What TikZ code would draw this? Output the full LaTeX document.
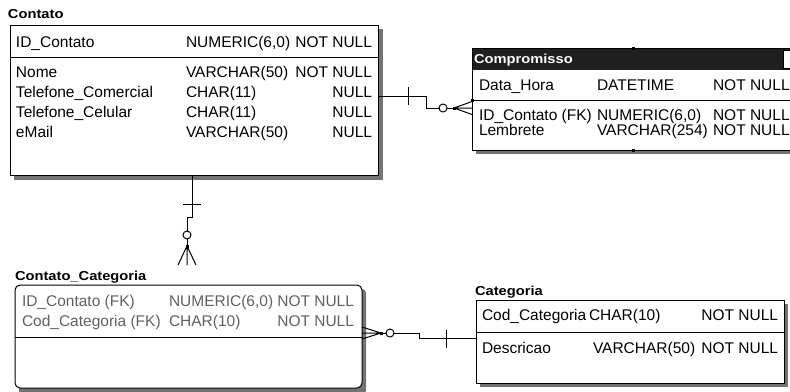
\documentclass[tikz,border=0pt]{standalone}
\usepackage{fontspec}
\setmainfont{Liberation Sans}
\newfontfamily\ttlfont[FakeStretch=1.13]{Liberation Sans Bold}
\begin{document}
\begin{tikzpicture}[x=1pt,y=-1pt,
  every node/.style={inner sep=0pt,outer sep=0pt},
  row/.style={anchor=base west,font=\fontsize{15.5}{18}\selectfont},
  rowr/.style={anchor=base east,font=\fontsize{15.5}{18}\selectfont},
  graytxt/.style={row,text=black!62},
  graytxtr/.style={rowr,text=black!62},
  ttl/.style={anchor=base west,font=\ttlfont\fontsize{13}{15}\selectfont},
  box/.style={draw=black,line width=1pt,fill=white},
  shadow/.style={fill=black!55,draw=none},
  conn/.style={line width=1pt,draw=black},
  circ/.style={circle,draw=black,fill=white,line width=1pt,minimum size=8pt},
  sq/.style={fill=black,minimum size=3pt}
]
\useasboundingbox (0,0) rectangle (790,391);
\clip (0,0) rectangle (790,391);
\fill[white] (0,0) rectangle (790,391);

% ---------------- Contato
\fill[shadow] (14,29) rectangle (383,180);
\draw[box] (10,25) rectangle (378,175);
\draw[line width=1pt] (10,57) -- (378,57);
\node[ttl] (tc) at (8,18.5) {Contato};
\node[row] (c1a) at (16,47.5) {ID\_Contato};
\node[row] (c1b) at (186,47.5) {NUMERIC(6,0)};
\node[rowr] (c1c) at (372,47.5) {NOT NULL};
\node[row] at (16,77.5) {Nome};
\node[row] at (186,77.5) {VARCHAR(50)};
\node[rowr] at (372,77.5) {NOT NULL};
\node[row] at (16,97.5) {Telefone\_Comercial};
\node[row] at (186,97.5) {CHAR(11)};
\node[rowr] at (372,97.5) {NULL};
\node[row] at (16,117.5) {Telefone\_Celular};
\node[row] at (186,117.5) {CHAR(11)};
\node[rowr] at (372,117.5) {NULL};
\node[row] at (16,137.5) {eMail};
\node[row] at (186,137.5) {VARCHAR(50)};
\node[rowr] at (372,137.5) {NULL};

% ---------------- Compromisso
\fill[shadow] (476,52) rectangle (800,154);
\draw[box] (472,48) rectangle (800,150);
\fill[black!88] (472,48) rectangle (800,69.5);
\draw[line width=1pt,fill=white] (783,50) rectangle (800,68);
\draw[line width=1pt] (472,48) rectangle (800,150);
\draw[line width=1pt] (472,100) -- (800,100);
\node[ttl,text=white] (tp) at (474,63) {Compromisso};
\node[row] at (479,90) {Data\_Hora};
\node[row] at (597,90) {DATETIME};
\node[row] at (713,90) {NOT NULL};
\node[row] at (479,120) {ID\_Contato (FK)};
\node[row] at (597,120) {NUMERIC(6,0)};
\node[row] at (713,120) {NOT NULL};
\node[row] at (479,135) {Lembrete};
\node[row] at (597,135) {VARCHAR(254)};
\node[row] at (713,135) {NOT NULL};
\node[sq] at (633,48) {};
\node[sq] at (633,150) {};
\node[sq] at (472.5,100) {};

% ---------------- Contato_Categoria
\fill[shadow,rounded corners=4pt] (19,289) rectangle (366,395);
\draw[box,rounded corners=5pt] (15,285) rectangle (362,388);
\draw[line width=1pt] (15,337) -- (362,337);
\node[ttl] (tcc) at (15,280) {Contato\_Categoria};
\node[graytxt] at (22,306) {ID\_Contato (FK)};
\node[graytxt] at (169,306) {NUMERIC(6,0)};
\node[graytxtr] at (354,306) {NOT NULL};
\node[graytxt] at (22,326) {Cod\_Categoria (FK)};
\node[graytxt] at (169,326) {CHAR(10)};
\node[graytxtr] at (354,326) {NOT NULL};

% ---------------- Categoria
\fill[shadow] (480,304) rectangle (788,387);
\draw[box] (476,300) rectangle (784,383);
\draw[line width=1pt] (476,332) -- (784,332);
\node[ttl] (tcat) at (475,295) {Categoria};
\node[row] at (482,320) {Cod\_Categoria};
\node[row] at (589,320) {CHAR(10)};
\node[rowr] at (778,320) {NOT NULL};
\node[row] at (482,353) {Descricao};
\node[row] at (593,353) {VARCHAR(50)};
\node[rowr] at (778,353) {NOT NULL};

% ---------------- Connector Contato -> Compromisso
\coordinate (a0) at (378,96);
\coordinate (a1) at (426,96);
\coordinate (a2) at (426,108);
\coordinate (af) at (454,108);
\coordinate (ae) at (472,108);
\draw[conn] (a0) -- (a1) -- (a2) -- (af);
\draw[conn] (408,87) -- (408,105);
\draw[conn] (af) -- (472,101.5) (af) -- (ae) (af) -- (472,114.5);
\node[sq] at (af) {};
\node[circ] at (443,108) {};

% ---------------- Connector Contato -> Contato_Categoria
\coordinate (b0) at (192,175);
\coordinate (b1) at (192,217);
\coordinate (b2) at (187,217);
\coordinate (bf) at (187,246);
\draw[conn] (b0) -- (b1) -- (b2) -- (bf);
\draw[conn] (183,204) -- (201,204);
\draw[conn] (bf) -- (178,265) (bf) -- (187,265) (bf) -- (196,265);
\node[sq] at (bf) {};
\node[circ] at (187,235) {};

% ---------------- Connector Contato_Categoria -> Categoria
\coordinate (cf) at (381,333);
\coordinate (c1) at (419,333);
\coordinate (c2) at (419,338);
\coordinate (ce) at (476,338);
\draw[conn] (cf) -- (c1) -- (c2) -- (ce);
\draw[conn] (446,330) -- (446,348);
\draw[conn] (cf) -- (362,327) (cf) -- (362,333) (cf) -- (362,339);
\node[sq] at (cf) {};
\node[circ] at (390,333) {};
\end{tikzpicture}
\end{document}
